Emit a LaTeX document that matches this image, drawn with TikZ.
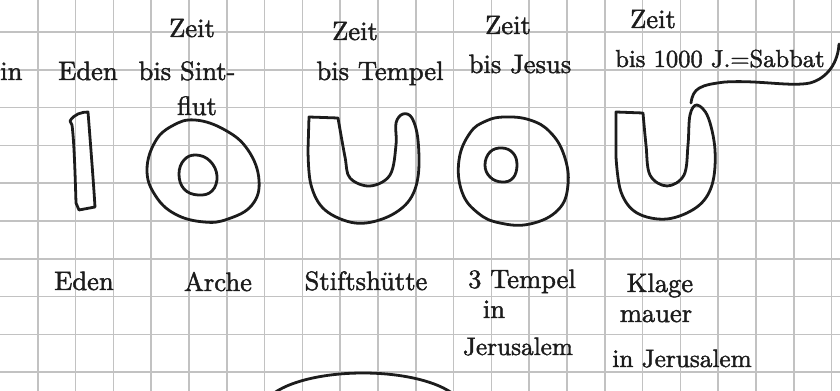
\documentclass[tikz,border=0pt]{standalone}
\usepackage{fontspec}
\usetikzlibrary{positioning}
\newfontfamily\handfont{lmroman10-regular}[Extension=.otf, RawFeature={embolden=1.6}]
\definecolor{sketchink}{HTML}{1C1C1C}
\definecolor{sketchgrid}{HTML}{C2C2C2}

\begin{document}
\begin{tikzpicture}[
  x=0.026458cm, y=-0.026458cm,
  hand/.style={draw=sketchink, line width=2.1pt, line join=round, line cap=round},
  lbl/.style={font=\handfont\fontsize{20}{24}\selectfont, text=sketchink, inner sep=0pt, anchor=base},
  gridline/.style={draw=sketchgrid, line width=1.1pt},
]

% geometry (pixel units, y downwards)
\def\cell{37.8}     % one grid square
\def\gridtop{32}    % first horizontal grid line

\useasboundingbox (0,0) rectangle (840,391);
\fill[white] (0,0) rectangle (840,391);

\begin{scope}
\clip (0,0) rectangle (840,391);

% ============ squared paper ============
\foreach \k in {1,...,22}
  \draw[gridline] ({\k*\cell},0) -- ({\k*\cell},391);
\foreach \k in {0,...,9}
  \draw[gridline] (0,{\gridtop+\k*\cell}) -- (840,{\gridtop+\k*\cell});

% ============ top row: Zeit ... ============
\node[lbl, anchor=base west] (inlbl) at (0,80) {in};
\node[lbl] (edentop) at (88,80) {Eden};
\node[lbl] (zeitA) at (192,37) {Zeit};
\node[lbl] (sintA) at (187,80) {bis Sint-};
\node[lbl] (sintB) at (197,115) {flut};
\node[lbl] (zeitB) at (355,40) {Zeit};
\node[lbl] (tempelT) at (380,80) {bis Tempel};
\node[lbl] (zeitC) at (508,34) {Zeit};
\node[lbl] (jesusT) at (520,73) {bis Jesus};
\node[lbl] (zeitD) at (653,28) {Zeit};
\node[lbl, anchor=base west, font=\handfont\fontsize{18.5}{22}\selectfont] (sabbatT) at (615,67) {bis 1000 J.=Sabbat};

% ============ shapes ============
% Eden: narrow bar
\draw[hand] (70,121) .. controls (74,114) and (82,112) .. (88,112)
  .. controls (91,150) and (94,190) .. (95,207) -- (79,210) -- (76,203)
  .. controls (75,170) and (74,140) .. (72,125) -- cycle;
% Arche: ring
\draw[hand] plot[smooth cycle, tension=0.7] coordinates {
  (195,120) (225,130) (248,150) (259,180) (252,205) (228,219)
  (204,222) (175,214) (155,195) (147,170) (155,142) (172,126)};
\draw[hand] plot[smooth cycle, tension=0.7] coordinates {
  (196,155) (210,161) (217,176) (212,191) (198,195) (184,189) (179,174) (184,160)};
% Stiftshuette: U
\draw[hand] (309,117) -- plot[smooth, tension=0.6] coordinates {
  (338,118) (345,157) (350,178) (370,186) (390,175) (396,145) (396,123)
  (403,114) (412,118) (418,140) (418,177) (408,202) (385,218) (355,223)
  (325,210) (311,185) (308,150)} -- cycle;
% 3 Tempel: ring
\draw[hand] plot[smooth cycle, tension=0.7] coordinates {
  (505,117) (530,120) (550,132) (564,155) (568,185) (558,210) (530,224)
  (500,223) (478,213) (462,192) (459,160) (470,133) (486,121)};
\draw[hand] plot[smooth cycle, tension=0.7] coordinates {
  (502,148) (513,153) (517,165) (513,178) (502,182) (490,177) (485,165) (490,152)};
% Klagemauer: U
\draw[hand] (616,112) -- plot[smooth, tension=0.6] coordinates {
  (643,113) (646,145) (650,175) (667,186) (684,175) (688,145) (690,115)
  (697,105) (708,117) (715,150) (712,185) (697,207) (667,219) (637,213)
  (621,192) (616,157)} -- cycle;

% connector from the U to the Sabbat label
\coordinate (klagetop) at (691,103);
\coordinate (sabbatend) at (839,44);
\draw[hand] (klagetop) .. controls (693,88) and (700,85) .. (725,82)
  .. controls (760,80) and (790,87) .. (810,83)
  .. controls (828,78) and (838,62) .. (sabbatend);

% ============ bottom row: names ============
\node[lbl] (edenB) at (84,290) {Eden};
\node[lbl] (archeB) at (218,291) {Arche};
\node[lbl] (stiftB) at (366,290) {Stiftshütte};
\node[lbl] (tempelB1) at (522,288) {3 Tempel};
\node[lbl] (tempelB2) at (494,318) {in};
\node[lbl, font=\handfont\fontsize{19}{23}\selectfont] (tempelB3) at (518,355) {Jerusalem};
\node[lbl] (klageB1) at (660,292) {Klage};
\node[lbl] (klageB2) at (656,322) {mauer};
\node[lbl, font=\handfont\fontsize{19}{23}\selectfont] (klageB3) at (682,367) {in Jerusalem};

% large outline, cut by the lower edge
\draw[hand] (363,410) ellipse [x radius=100, y radius=37];
\end{scope}

\end{tikzpicture}
\end{document}
